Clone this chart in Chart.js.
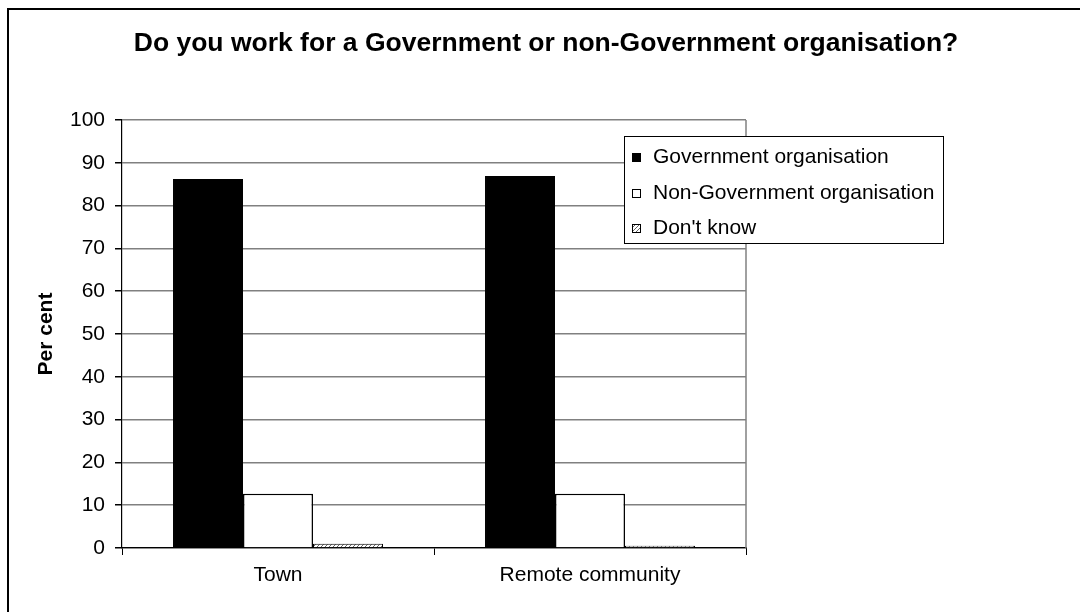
<!DOCTYPE html>
<html>
<head>
<meta charset="utf-8">
<title>Government or non-Government organisation</title>
<script src="https://cdn.jsdelivr.net/npm/chart.js@4.4.1/dist/chart.umd.min.js"></script>
<style>
  html, body { margin: 0; padding: 0; background: #fff; }
  #wrap { width: 1080px; height: 612px; }
</style>
</head>
<body>
<div id="wrap"><canvas id="barChart" width="1080" height="612"></canvas></div>
<script>
// Survey answers, per cent of respondents
const categories = ['Town', 'Remote community'];
const governmentOrg = [86.2, 86.9];
const nonGovernmentOrg = [12.7, 12.7];
const dontKnow = [1.0, 0.5];
const seriesLabels = ['Government organisation', 'Non-Government organisation', "Don't know"];
const yTickValues = [0, 10, 20, 30, 40, 50, 60, 70, 80, 90, 100];

const FONT = '"Liberation Sans", Arial, sans-serif';

// small diagonal hatch used for the "Don't know" bars
function hatchPattern() {
    const c = document.createElement('canvas');
    c.width = 4;
    c.height = 4;
    const g = c.getContext('2d');
    g.fillStyle = '#fff';
    g.fillRect(0, 0, 4, 4);
    g.fillStyle = '#666';
    g.fillRect(0, 3, 1, 1);
    g.fillRect(1, 2, 1, 1);
    g.fillRect(2, 1, 1, 1);
    g.fillRect(3, 0, 1, 1);
    return g.createPattern(c, 'repeat');
}
const hatch = hatchPattern();

// outer frame + grey right edge of the plot area
const frame = {
    id: 'frame',
    beforeDraw(chart) {
        const { ctx, width, height } = chart;
        ctx.save();
        ctx.fillStyle = '#fff';
        ctx.fillRect(0, 0, width, height);
        ctx.strokeStyle = '#000';
        ctx.lineWidth = 2;
        ctx.strokeRect(8, 9, width + 20, height + 20);
        ctx.restore();
    },
    afterDatasetsDraw(chart) {
        const { ctx, chartArea } = chart;
        ctx.save();
        ctx.strokeStyle = '#808080';
        ctx.lineWidth = 1.5;
        ctx.beginPath();
        ctx.moveTo(chartArea.right, chartArea.top);
        ctx.lineTo(chartArea.right, chartArea.bottom);
        ctx.stroke();
        ctx.restore();
    }
};

// boxed legend sitting over the top right of the plot
const boxLegend = {
    id: 'boxLegend',
    afterDraw(chart) {
        const { ctx, chartArea } = chart;
        const x = chartArea.right - 122, y = chartArea.top + 16, w = 319, h = 107;
        ctx.save();
        ctx.fillStyle = '#fff';
        ctx.fillRect(x, y, w, h);
        ctx.strokeStyle = '#000';
        ctx.lineWidth = 1;
        ctx.strokeRect(x + 0.5, y + 0.5, w, h);
        ctx.font = '21px ' + FONT;
        ctx.textBaseline = 'middle';
        chart.data.datasets.forEach((ds, i) => {
            const cy = Math.round(y + 21 + i * 35.5);
            ctx.fillStyle = ds.backgroundColor;
            ctx.fillRect(x + 8, cy - 4, 9, 9);
            ctx.strokeStyle = '#000';
            ctx.strokeRect(x + 8.5, cy - 3.5, 8, 8);
            ctx.fillStyle = '#000';
            ctx.fillText(ds.label, x + 29, cy);
        });
        ctx.restore();
    }
};

const ctx = document.getElementById('barChart').getContext('2d');
new Chart(ctx, {
    type: 'bar',
    data: {
        labels: categories,
        datasets: [{
            label: seriesLabels[0],
            data: governmentOrg,
            backgroundColor: '#000',
            borderColor: '#000',
            borderWidth: 1
        }, {
            label: seriesLabels[1],
            data: nonGovernmentOrg,
            backgroundColor: '#fff',
            borderColor: '#000',
            borderWidth: 1.5
        }, {
            label: seriesLabels[2],
            data: dontKnow,
            backgroundColor: hatch,
            borderColor: '#000',
            borderWidth: 1
        }]
    },
    options: {
        responsive: false,
        animation: false,
        layout: {
            padding: { top: 28.1, left: 12, right: 0, bottom: 0 }
        },
        datasets: {
            bar: {
                categoryPercentage: 0.673,
                barPercentage: 1.0
            }
        },
        scales: {
            x: {
                afterFit: (scale) => { scale.height = 64; },
                grid: {
                    drawOnChartArea: false,
                    tickLength: 7,
                    tickColor: '#000'
                },
                border: { color: '#000', width: 1.2 },
                ticks: {
                    color: '#000',
                    padding: 8,
                    font: { family: FONT, size: 21 }
                }
            },
            y: {
                min: 0,
                max: 100,
                afterFit: (scale) => { scale.width = 110; },
                afterBuildTicks: (scale) => {
                    scale.ticks = yTickValues.map(v => ({ value: v }));
                },
                grid: {
                    color: '#808080',
                    lineWidth: 1.5,
                    tickLength: 7,
                    tickColor: '#000'
                },
                border: { color: '#000', width: 1.2 },
                ticks: {
                    color: '#000',
                    padding: 10,
                    font: { family: FONT, size: 21 }
                },
                title: {
                    display: true,
                    text: 'Per cent',
                    color: '#000',
                    padding: { top: 21.4, bottom: 0 },
                    font: { family: FONT, size: 21, weight: 'bold' }
                }
            },
            // empty right-hand axis: keeps the space the legend box spills into
            spacer: {
                position: 'right',
                afterFit: (scale) => { scale.width = 334; },
                grid: { display: false },
                border: { display: false },
                ticks: { display: false }
            }
        },
        plugins: {
            legend: { display: false },
            tooltip: { enabled: false },
            title: {
                display: true,
                text: 'Do you work for a Government or non-Government organisation?',
                color: '#000',
                padding: { top: 0, bottom: 60.1 },
                font: { family: FONT, size: 26.5, weight: 'bold' }
            }
        }
    },
    plugins: [frame, boxLegend]
});
</script>
</body>
</html>
